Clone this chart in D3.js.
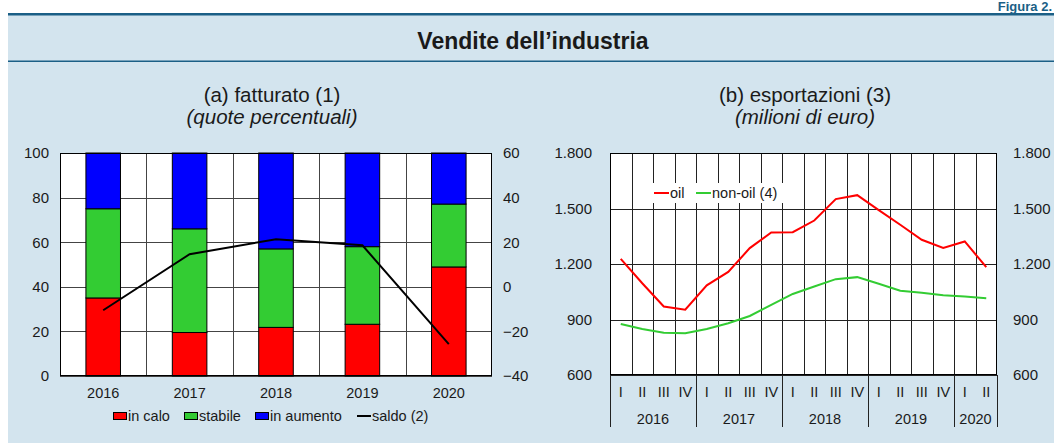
<!DOCTYPE html>
<html><head><meta charset="utf-8">
<script src="https://cdn.jsdelivr.net/npm/d3@7"></script>
<style>
body{margin:0;background:#fff;}
svg{display:block;font-family:"Liberation Sans",Arial,sans-serif;}
</style></head><body>
<svg id="c" width="1054" height="443"></svg>
<script>
// ---- data ----
const years = ["2016","2017","2018","2019","2020"];
const inCalo    = [35, 19.5, 21.8, 23.2, 48.9];
const stabile   = [40, 46.5, 35.2, 34.8, 28.2];
const inAumento = [25, 34, 43, 42, 22.9];
const saldo     = [-10.5, 14.6, 21.3, 18.6, -25.7];
const leftTicks  = [0,20,40,60,80,100];
const rightTicks = [-40,-20,0,20,40,60];

const quarterLabels = ["I","II","III","IV","I","II","III","IV","I","II","III","IV","I","II","III","IV","I","II"];
const quarterYears  = ["2016","2016","2016","2016","2017","2017","2017","2017","2018","2018","2018","2018","2019","2019","2019","2019","2020","2020"];
const oil    = [1228,1096,970,953,1085,1157,1286,1370,1372,1435,1551,1572,1491,1412,1331,1287,1322,1183];
const nonOil = [876,849,829,826,849,880,919,979,1038,1078,1118,1129,1093,1055,1044,1031,1024,1015];
const expTicks = [600,900,1200,1500,1800];

// ---- frame ----
const svg = d3.select("#c");
const dark = "#1b5f86";
svg.append("rect").attr("x",8).attr("y",15).attr("width",1046).attr("height",428).attr("fill","#d3e4ee");
svg.append("rect").attr("x",8).attr("y",13).attr("width",1046).attr("height",2.5).attr("fill",dark);
svg.append("rect").attr("x",8).attr("y",60.5).attr("width",1046).attr("height",1.5).attr("fill",dark);
svg.append("text").attr("x",1052).attr("y",11).attr("text-anchor","end").attr("font-weight","bold")
  .attr("font-size",13).attr("fill",dark).text("Figura 2.");
svg.append("text").attr("x",533).attr("y",49).attr("text-anchor","middle").attr("font-weight","bold")
  .attr("font-size",23).attr("fill","#1a1a1a").text("Vendite dell\u2019industria");

const itFmt = d3.formatLocale({decimal:",",thousands:".",grouping:[3],currency:["€",""]}).format(",");
const TF = 15; // tick font

// ---- panel (a) ----
const L = {x0:60, x1:492, y0:153, y1:376};
const xb = d3.scaleBand().domain(years).range([L.x0,L.x1]);
const yl = d3.scaleLinear().domain([0,100]).range([L.y1,L.y0]);
const yr = d3.scaleLinear().domain([-40,60]).range([L.y1,L.y0]);
const ga = svg.append("g");
ga.append("text").attr("x",272).attr("y",102).attr("text-anchor","middle").attr("font-size",20.5).attr("fill","#1a1a1a").text("(a) fatturato (1)");
ga.append("text").attr("x",272).attr("y",124).attr("text-anchor","middle").attr("font-size",20.5).attr("font-style","italic").attr("fill","#1a1a1a").text("(quote percentuali)");
ga.append("rect").attr("x",L.x0).attr("y",L.y0).attr("width",L.x1-L.x0).attr("height",L.y1-L.y0).attr("fill","#fff");
// grid
ga.append("g").attr("transform",`translate(${L.x0},0)`)
  .call(d3.axisLeft(yl).tickValues(leftTicks).tickSize(-(L.x1-L.x0)).tickFormat(""))
  .call(g=>g.select(".domain").remove())
  .call(g=>g.selectAll("line").attr("stroke","#444").attr("shape-rendering","crispEdges"));
ga.append("g").selectAll("line").data(years.slice(1)).join("line")
  .attr("x1",d=>Math.round(xb(d))+0.5).attr("x2",d=>Math.round(xb(d))+0.5)
  .attr("y1",L.y0).attr("y2",L.y1).attr("stroke","#444");
// bars
const bw = xb.bandwidth()*0.4;
const stackData = years.map((y,i)=>({year:y, calo:inCalo[i], stab:stabile[i], aum:inAumento[i]}));
const series = d3.stack().keys(["calo","stab","aum"])(stackData);
const colors = {calo:"#ff0000", stab:"#33cc33", aum:"#0000ff"};
ga.append("g").selectAll("g").data(series).join("g").attr("fill",d=>colors[d.key])
  .selectAll("rect").data(d=>d).join("rect")
  .attr("x",d=>xb(d.data.year)+(xb.bandwidth()-bw)/2).attr("width",bw)
  .attr("y",d=>yl(d[1])).attr("height",d=>yl(d[0])-yl(d[1]))
  .attr("stroke","#000").attr("stroke-width",1);
// saldo line
ga.append("path").datum(saldo)
  .attr("d",d3.line().x((d,i)=>xb(years[i])+xb.bandwidth()/2).y(d=>yr(d)))
  .attr("fill","none").attr("stroke","#000").attr("stroke-width",2);
// border
ga.append("rect").attr("x",L.x0+0.5).attr("y",L.y0+0.5).attr("width",L.x1-L.x0-1).attr("height",L.y1-L.y0-1)
  .attr("fill","none").attr("stroke","#000");
// axes labels
ga.append("g").attr("transform",`translate(${L.x0-11},0)`)
  .call(d3.axisLeft(yl).tickValues(leftTicks).tickSize(0).tickPadding(0))
  .call(g=>g.select(".domain").remove())
  .call(g=>g.selectAll("text").attr("font-size",TF).attr("fill","#1a1a1a").attr("font-family","Liberation Sans, Arial"));
ga.append("g").attr("transform",`translate(${L.x1+11},0)`)
  .call(d3.axisRight(yr).tickValues(rightTicks).tickSize(0).tickPadding(0))
  .call(g=>g.select(".domain").remove())
  .call(g=>g.selectAll("text").attr("font-size",TF).attr("fill","#1a1a1a").attr("font-family","Liberation Sans, Arial"));
ga.append("g").attr("transform",`translate(0,${L.y1+12})`)
  .call(d3.axisBottom(xb).tickSize(0).tickPadding(0))
  .call(g=>g.select(".domain").remove())
  .call(g=>g.selectAll("text").attr("font-size",14.5).attr("fill","#1a1a1a").attr("font-family","Liberation Sans, Arial"));
// legend
const leg = [
  {t:"in calo", c:"#ff0000", x:113},
  {t:"stabile", c:"#33cc33", x:184},
  {t:"in aumento", c:"#0000ff", x:255},
];
const lg = ga.append("g");
leg.forEach(l=>{
  lg.append("rect").attr("x",l.x+0.5).attr("y",412.5).attr("width",13).attr("height",7).attr("fill",l.c).attr("stroke","#000");
  lg.append("text").attr("x",l.x+15).attr("y",421).attr("font-size",14.5).attr("fill","#1a1a1a").text(l.t);
});
lg.append("line").attr("x1",357).attr("x2",371).attr("y1",416).attr("y2",416).attr("stroke","#000").attr("stroke-width",2);
lg.append("text").attr("x",372).attr("y",421).attr("font-size",14.5).attr("fill","#1a1a1a").text("saldo (2)");

// ---- panel (b) ----
const R = {x0:610, x1:997, y0:153, y1:375};
const qKeys = quarterLabels.map((q,i)=>quarterYears[i]+"-"+q);
const xq = d3.scaleBand().domain(qKeys).range([R.x0,R.x1]);
const ye = d3.scaleLinear().domain([600,1800]).range([R.y1,R.y0]);
const gb = svg.append("g");
gb.append("text").attr("x",805).attr("y",102).attr("text-anchor","middle").attr("font-size",20.5).attr("fill","#1a1a1a").text("(b) esportazioni (3)");
gb.append("text").attr("x",805).attr("y",124).attr("text-anchor","middle").attr("font-size",20.5).attr("font-style","italic").attr("fill","#1a1a1a").text("(milioni di euro)");
gb.append("rect").attr("x",R.x0).attr("y",R.y0).attr("width",R.x1-R.x0).attr("height",R.y1-R.y0).attr("fill","#fff");
gb.append("g").attr("transform",`translate(${R.x0},0)`)
  .call(d3.axisLeft(ye).tickValues(expTicks).tickSize(-(R.x1-R.x0)).tickFormat(""))
  .call(g=>g.select(".domain").remove())
  .call(g=>g.selectAll("line").attr("stroke","#222").attr("shape-rendering","crispEdges"));
gb.append("g").selectAll("line").data(qKeys.slice(1)).join("line")
  .attr("x1",d=>Math.round(xq(d))+0.5).attr("x2",d=>Math.round(xq(d))+0.5)
  .attr("y1",R.y0).attr("y2",R.y1).attr("stroke","#222");
// legend box
gb.append("rect").attr("x",646).attr("y",183).attr("width",140).attr("height",20).attr("fill","#fff");
const lineGen = d3.line().x((d,i)=>xq(qKeys[i])+xq.bandwidth()/2).y(d=>ye(d));
gb.append("path").datum(nonOil).attr("d",lineGen).attr("fill","none").attr("stroke","#33cc33").attr("stroke-width",2);
gb.append("path").datum(oil).attr("d",lineGen).attr("fill","none").attr("stroke","#ff0000").attr("stroke-width",2);
gb.append("line").attr("x1",654).attr("x2",669).attr("y1",193).attr("y2",193).attr("stroke","#ff0000").attr("stroke-width",2);
gb.append("text").attr("x",670).attr("y",198).attr("font-size",14.5).attr("fill","#1a1a1a").text("oil");
gb.append("line").attr("x1",696).attr("x2",711).attr("y1",193).attr("y2",193).attr("stroke","#33cc33").attr("stroke-width",2);
gb.append("text").attr("x",712).attr("y",198).attr("font-size",14.5).attr("fill","#1a1a1a").text("non-oil (4)");
gb.append("rect").attr("x",R.x0+0.5).attr("y",R.y0+0.5).attr("width",R.x1-R.x0-1).attr("height",R.y1-R.y0-1)
  .attr("fill","none").attr("stroke","#000");
// y labels
gb.append("g").attr("transform",`translate(${R.x0-18},0)`)
  .call(d3.axisLeft(ye).tickValues(expTicks).tickSize(0).tickPadding(0).tickFormat(itFmt))
  .call(g=>g.select(".domain").remove())
  .call(g=>g.selectAll("text").attr("font-size",TF).attr("fill","#1a1a1a").attr("font-family","Liberation Sans, Arial"));
gb.append("g").attr("transform",`translate(${R.x1+16},0)`)
  .call(d3.axisRight(ye).tickValues(expTicks).tickSize(0).tickPadding(0).tickFormat(itFmt))
  .call(g=>g.select(".domain").remove())
  .call(g=>g.selectAll("text").attr("font-size",TF).attr("fill","#1a1a1a").attr("font-family","Liberation Sans, Arial"));
// quarter labels
gb.append("g").attr("transform",`translate(0,${R.y1+12})`)
  .call(d3.axisBottom(xq).tickSize(0).tickPadding(0).tickFormat((d,i)=>quarterLabels[i]))
  .call(g=>g.select(".domain").remove())
  .call(g=>g.selectAll("text").attr("font-size",14.5).attr("fill","#1a1a1a").attr("font-family","Liberation Sans, Arial"));
// year groups
const yearGroups = years.map(y=>{
  const idx = quarterYears.map((v,i)=>v===y?i:-1).filter(i=>i>=0);
  return {y, a:xq(qKeys[idx[0]]), b:xq(qKeys[idx[idx.length-1]])+xq.bandwidth()};
});
const sepX = [R.x0].concat(yearGroups.map(g=>g.b));
gb.append("g").selectAll("line").data(sepX).join("line")
  .attr("x1",d=>Math.round(d)+0.5).attr("x2",d=>Math.round(d)+0.5)
  .attr("y1",R.y1).attr("y2",427).attr("stroke","#222");
gb.append("g").selectAll("text").data(yearGroups).join("text")
  .attr("x",d=>(d.a+d.b)/2).attr("y",424).attr("text-anchor","middle").attr("font-size",14.5).attr("fill","#1a1a1a")
  .text(d=>d.y);
</script>
</body></html>
